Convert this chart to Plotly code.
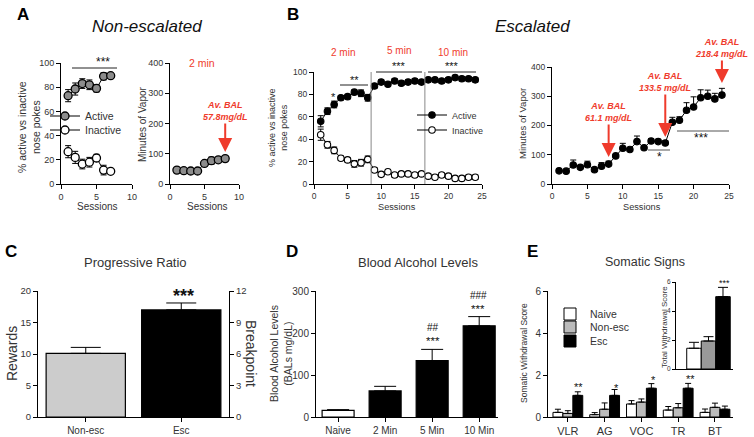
import plotly.graph_objects as go

FW, FH = 754, 437
FONT = "Liberation Sans, Arial, sans-serif"
RED = "#ef3b2c"
TXT = "#333333"
STAR = "#111111"

# ---------------- data ----------------
a_sessions = [1, 2, 3, 4, 5, 6, 7]
a_active = [73, 78.5, 83, 82, 79, 89, 89.5]
a_active_err = [5, 5, 4, 4, 3, 3, 2]
a_inactive = [26.7, 22, 16.5, 18, 21.5, 11.5, 10.5]
a_inactive_err = [5, 5, 4, 4, 3, 4, 2]

a_vapor_sessions = [1, 2, 3, 4, 5, 6, 7, 8]
a_vapor = [46, 44, 43, 43, 68, 77, 80, 84]
a_vapor_err = [3, 3, 3, 3, 4, 12, 7, 6]

b_sessions = [1, 2, 3, 4, 5, 6, 7, 8, 9, 10, 11, 12, 13, 14, 15, 16, 17, 18, 19, 20, 21, 22, 23, 24]
b_active = [56, 65, 71, 77, 78, 82, 81, 77, 87.5, 91, 89, 92, 90, 91, 92, 91, 93, 93, 92, 93, 95, 94, 94, 93]
b_active_err = [5, 3, 3, 2, 2, 2, 3, 3, 2, 2, 2, 2, 2, 2, 2, 2, 2, 2, 2, 2, 2, 2, 2, 2]
b_inactive = [44, 35, 30, 23, 21.5, 18, 19, 22, 12.5, 8.6, 11, 8, 9, 9, 8, 9, 7, 6, 8, 7, 5, 5, 6, 6]
b_inactive_err = [5, 3, 3, 2, 2, 3, 3, 3, 2, 2, 2, 2, 2, 2, 2, 2, 2, 2, 2, 2, 2, 2, 2, 2]
b_vapor = [45, 44, 65, 57, 66, 49, 61, 68, 96, 122, 118, 145, 124, 147, 145, 140,
           211, 218, 252, 263, 295, 300, 291, 304]
b_vapor_err = [3, 3, 17, 5, 12, 4, 12, 10, 5, 17, 6, 19, 5, 8, 8, 8,
               17, 12, 26, 35, 27, 21, 19, 23]

c_groups = ["Non-esc", "Esc"]
c_rewards = [10.1, 17.0]
c_rewards_err = [0.95, 1.1]

d_groups = ["Naive", "2 Min", "5 Min", "10 Min"]
d_bal = [16, 62, 134, 217]
d_bal_err = [1.5, 11, 27, 22]
d_colors = ["white", "black", "black", "black"]

e_signs = ["VLR", "AG", "VOC", "TR", "BT"]
e_naive = [0.22, 0.11, 0.62, 0.33, 0.22]
e_naive_err = [0.15, 0.1, 0.16, 0.17, 0.16]
e_nonesc = [0.17, 0.37, 0.71, 0.44, 0.46]
e_nonesc_err = [0.13, 0.3, 0.15, 0.2, 0.2]
e_esc = [1.03, 1.03, 1.37, 1.37, 0.37]
e_esc_err = [0.17, 0.28, 0.22, 0.23, 0.15]

inset_groups = [0, 1, 2]
inset_total = [1.43, 1.93, 4.99]
inset_total_err = [0.41, 0.3, 0.64]
inset_colors = ["white", "#999999", "black"]


# ---------------- helpers (page pixels -> paper fractions) ----------------
def px(x):
    return x / FW


def py(y):
    return 1 - y / FH


def xd(a, b):
    return [px(a), px(b)]


def yd(top, bottom):
    return [py(bottom), py(top)]


def axis(domain, anchor, rng, fs=9, **kw):
    d = dict(domain=domain, anchor=anchor, range=rng, showline=True, linecolor="black",
             linewidth=1, ticks="outside", ticklen=4, tickwidth=1, tickcolor="black",
             showgrid=False, zeroline=False, fixedrange=True,
             tickfont=dict(size=fs, color=TXT, family=FONT))
    d.update(kw)
    return d


def ebar(arr, sym=True, w=3):
    d = dict(type="data", array=arr, visible=True, color="black", thickness=1, width=w)
    if not sym:
        d["symmetric"] = False
        d["arrayminus"] = [0] * len(arr)
    return d


def leg(text_x, y, size):
    return dict(x=px(text_x - 40), y=py(y), xanchor="left", yanchor="middle",
                bgcolor="rgba(0,0,0,0)", borderwidth=0, font=dict(size=size, color=TXT, family=FONT))


fig = go.Figure()

# Panel A left
fig.add_trace(go.Scatter(x=a_sessions, y=a_active, mode="lines+markers", name="Active",
                         marker=dict(size=8, color="#8c8c8c", line=dict(color="black", width=1.3)),
                         line=dict(color="black", width=1), error_y=ebar(a_active_err),
                         xaxis="x", yaxis="y", legend="legend"))
fig.add_trace(go.Scatter(x=a_sessions, y=a_inactive, mode="lines+markers", name="Inactive",
                         marker=dict(size=8, color="white", line=dict(color="black", width=1.3)),
                         line=dict(color="black", width=1), error_y=ebar(a_inactive_err),
                         xaxis="x", yaxis="y", legend="legend2"))
# Panel A right
fig.add_trace(go.Scatter(x=a_vapor_sessions, y=a_vapor, mode="lines+markers", showlegend=False,
                         marker=dict(size=8, color="#8c8c8c", line=dict(color="black", width=1.3)),
                         line=dict(color="black", width=1), error_y=ebar(a_vapor_err),
                         xaxis="x2", yaxis="y2"))
# Panel B left
fig.add_trace(go.Scatter(x=b_sessions, y=b_active, mode="lines+markers", name="Active",
                         marker=dict(size=6.5, color="black", line=dict(color="black", width=1.1)),
                         line=dict(color="black", width=1), error_y=ebar(b_active_err),
                         xaxis="x3", yaxis="y3", legend="legend3"))
fig.add_trace(go.Scatter(x=b_sessions, y=b_inactive, mode="lines+markers", name="Inactive",
                         marker=dict(size=6.5, color="white", line=dict(color="black", width=1.1)),
                         line=dict(color="black", width=1), error_y=ebar(b_inactive_err),
                         xaxis="x3", yaxis="y3", legend="legend4"))
# Panel B right
fig.add_trace(go.Scatter(x=b_sessions, y=b_vapor, mode="lines+markers", showlegend=False,
                         marker=dict(size=6.5, color="black", line=dict(color="black", width=1.1)),
                         line=dict(color="black", width=1), error_y=ebar(b_vapor_err, sym=False),
                         xaxis="x4", yaxis="y4"))
# Panel C
fig.add_trace(go.Bar(x=c_groups, y=c_rewards, width=0.83, showlegend=False,
                     marker=dict(color=["#cccccc", "black"], line=dict(color="black", width=1.2)),
                     error_y=ebar(c_rewards_err, sym=False, w=15), xaxis="x5", yaxis="y5"))
fig.add_trace(go.Scatter(x=c_groups, y=[0, 0], mode="markers", marker=dict(opacity=0),
                         showlegend=False, hoverinfo="skip", xaxis="x5", yaxis="y6"))
# Panel D
fig.add_trace(go.Bar(x=d_groups, y=d_bal, width=0.68, showlegend=False,
                     marker=dict(color=d_colors, line=dict(color="black", width=1.2)),
                     error_y=ebar(d_bal_err, sym=False, w=11), xaxis="x7", yaxis="y7"))
# Panel E
for nm, vals, errs, col, lg in [("Naive", e_naive, e_naive_err, "white", "legend5"),
                                ("Non-esc", e_nonesc, e_nonesc_err, "#bbbbbb", "legend6"),
                                ("Esc", e_esc, e_esc_err, "black", "legend7")]:
    fig.add_trace(go.Bar(x=e_signs, y=vals, name=nm,
                         marker=dict(color=col, line=dict(color="black", width=1)),
                         error_y=ebar(errs, sym=False, w=3), xaxis="x8", yaxis="y8", legend=lg))
# Inset
fig.add_trace(go.Bar(x=inset_groups, y=inset_total, width=1, showlegend=False,
                     marker=dict(color=inset_colors, line=dict(color="black", width=1)),
                     error_y=ebar(inset_total_err, sym=False, w=5), xaxis="x9", yaxis="y9"))

layout = dict(
    width=FW, height=FH, margin=dict(l=0, r=0, t=0, b=0, autoexpand=False),
    paper_bgcolor="white", plot_bgcolor="rgba(0,0,0,0)",
    font=dict(family=FONT, color=TXT), hovermode=False,
    barmode="group", bargap=0.19, bargroupgap=0,
    xaxis=axis(xd(61, 132), "y", [0, 10], fs=9, tickvals=[0, 5, 10]),
    yaxis=axis(yd(63, 184), "x", [0, 100], fs=9, tickvals=[0, 20, 40, 60, 80, 100]),
    xaxis2=axis(xd(170, 239), "y2", [0, 10], fs=9, tickvals=[0, 5, 10]),
    yaxis2=axis(yd(63, 184), "x2", [0, 400], fs=9, tickvals=[0, 100, 200, 300, 400]),
    xaxis3=axis(xd(314, 482), "y3", [0, 25], fs=8.5, tickvals=[0, 5, 10, 15, 20, 25]),
    yaxis3=axis(yd(72, 184), "x3", [0, 100], fs=8.5, tickvals=[0, 20, 40, 60, 80, 100]),
    xaxis4=axis(xd(552, 729), "y4", [0, 25], fs=8.5, tickvals=[0, 5, 10, 15, 20, 25]),
    yaxis4=axis(yd(67, 184), "x4", [0, 400], fs=8.5, tickvals=[0, 100, 200, 300, 400]),
    xaxis5=axis(xd(38, 229), "y5", [-0.5, 1.5], fs=10, type="category"),
    yaxis5=axis(yd(291, 417), "x5", [0, 20], fs=9.5, tickvals=[0, 5, 10, 15, 20]),
    yaxis6=axis(yd(291, 417), "x5", [0, 12], fs=9.5, tickvals=[0, 3, 6, 9, 12],
                overlaying="y5", side="right"),
    xaxis7=axis(xd(316, 498), "y7", [-0.47, 3.4], fs=10, type="category"),
    yaxis7=axis(yd(291, 417), "x7", [0, 300], fs=10, tickvals=[0, 100, 200, 300]),
    xaxis8=axis(xd(548, 733), "y8", [-0.54, 4.49], fs=11, type="category"),
    yaxis8=axis(yd(291, 417), "x8", [0, 6], fs=10, tickvals=[0, 2, 4, 6]),
    xaxis9=axis(xd(676, 733), "y9", [-1.24, 2.69], fs=6.5, showticklabels=False, ticks=""),
    yaxis9=axis(yd(282, 369), "x9", [0, 6], fs=6.5, tickvals=[0, 2, 4, 6], ticklen=3),
    legend=leg(85, 116, 10.5),
    legend2=leg(85, 130, 10.5),
    legend3=leg(452, 115, 9),
    legend4=leg(452, 130, 9),
    legend5=leg(590, 314, 10.5),
    legend6=leg(590, 327, 10.5),
    legend7=leg(590, 341, 10.5),
)
fig.update_layout(**layout)

ann = []


def text(x, y, s, size=12, color=TXT, angle=0, **kw):
    d = dict(x=px(x), y=py(y), xref="paper", yref="paper", text=s, showarrow=False,
             font=dict(size=size, color=color, family=FONT), textangle=angle,
             xanchor="center", yanchor="middle")
    d.update(kw)
    ann.append(d)


# Panel letters and headers
text(23, 14, "<b>A</b>", size=17, color="black")
text(293, 14, "<b>B</b>", size=17, color="black")
text(11, 251, "<b>C</b>", size=17, color="black")
text(292, 251, "<b>D</b>", size=17, color="black")
text(532, 251, "<b>E</b>", size=17, color="black")
text(147, 26, "<i>Non-escalated</i>", size=17, color="#111")
text(532, 26, "<i>Escalated</i>", size=17, color="#111")
text(135, 262, "Progressive Ratio", size=13)
text(418, 262, "Blood Alcohol Levels", size=13)
text(645, 262, "Somatic Signs", size=12.5)

# axis titles
text(29, 127, "% active vs inactive<br>nose pokes", size=10.5, angle=-90)
text(97, 207, "Sessions", size=10)
text(143, 124, "Minutes of Vapor", size=10, angle=-90)
text(207, 207, "Sessions", size=10)
text(278, 128, "% active vs inactive<br>nose pokes", size=9, angle=-90)
text(397, 207, "Sessions", size=9.2)
text(523, 124, "Minutes of Vapor", size=9.5, angle=-90)
text(642, 207, "Sessions", size=9.2)
text(12, 354, "Rewards", size=14, angle=-90)
text(251, 354, "Breakpoint", size=14, angle=90)
text(281, 354, "Blood Alcohol Levels<br>(BALs mg/dL)", size=10.5, angle=-90)
text(524, 353, "Somatic Withdrawal Score", size=8.5, angle=-90)
text(664, 327, "Total Withdrawal Score", size=8, angle=-90)

# red labels
text(202, 63, "2 min", size=10.5, color=RED)
text(343, 53, "2 min", size=10, color=RED)
text(399, 51, "5 min", size=10, color=RED)
text(453, 52, "10 min", size=10, color=RED)

# significance stars
text(103, 62, "***", size=12, color=STAR)
text(333, 97, "*", size=11, color=STAR)
text(354, 80, "**", size=11, color=STAR)
text(399, 66, "***", size=11, color=STAR)
text(452, 66, "***", size=11, color=STAR)
text(659, 157, "*", size=12, color=STAR)
text(701, 138, "***", size=12, color=STAR)
text(183, 296, "<b>***</b>", size=18, color=STAR)
text(433, 327, "##", size=10, color=STAR)
text(433, 341, "***", size=11.5, color=STAR)
text(478, 295, "###", size=10, color=STAR)
text(478, 309, "***", size=11.5, color=STAR)
text(578, 387, "**", size=11, color=STAR)
text(616, 388, "*", size=11, color=STAR)
text(653, 380, "*", size=11, color=STAR)
text(690, 379, "**", size=11, color=STAR)
text(724, 283, "***", size=9, color=STAR)


def bal(xref, yref, x, y, ay, s):
    ann.append(dict(x=x, y=y, xref=xref, yref=yref, ax=0, ay=ay, text="<b><i>" + s + "</i></b>",
                    showarrow=True, arrowhead=2, arrowsize=1.4, arrowwidth=2, arrowcolor=RED,
                    font=dict(size=9, color=RED, family=FONT), align="center"))


bal("x2", "y2", a_vapor_sessions[-1], 106, -41, "Av. BAL<br>57.8mg/dL")
bal("x4", "y4", b_sessions[7], 92, -45, "Av. BAL<br>61.1 mg/dL")
bal("x4", "y4", b_sessions[15], 161, -55, "Av. BAL<br>133.5 mg/dL")
bal("x4", "y4", b_sessions[23], 345, -35, "Av. BAL<br>218.4 mg/dL")

fig.update_layout(annotations=ann)

shapes = []


def hline(x0, x1, y, color="#222"):
    shapes.append(dict(type="line", xref="paper", yref="paper", x0=px(x0), x1=px(x1),
                       y0=py(y), y1=py(y), line=dict(color=color, width=1)))


hline(72, 117, 68)
hline(340, 368, 85)
hline(376, 422, 72)
hline(428, 476, 72)
hline(648, 670, 150, color="#555")
hline(677, 729, 131, color="#555")
for xv in [8.5, 16.5]:
    shapes.append(dict(type="line", xref="x3", yref="y3", x0=xv, x1=xv, y0=0, y1=100,
                       line=dict(color="#888", width=1)))
fig.update_layout(shapes=shapes)

fig.write_html("out.html", config={"displayModeBar": False, "staticPlot": False},
               post_script="document.body.style.margin='0px';")
